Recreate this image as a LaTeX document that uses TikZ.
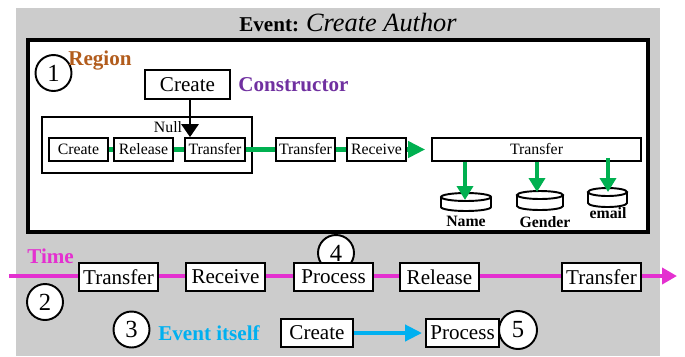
\documentclass[tikz,border=0pt]{standalone}
\usepackage{fontspec}
\setmainfont{LiberationSerif}[Extension=.ttf,UprightFont=*-Regular,BoldFont=*-Bold,ItalicFont=*-Italic,BoldItalicFont=*-BoldItalic]
\usetikzlibrary{arrows.meta}
\definecolor{regiongreen}{RGB}{0,176,80}
\definecolor{timepink}{RGB}{228,48,208}
\definecolor{eventblue}{RGB}{0,176,240}
\definecolor{regionbrown}{RGB}{178,92,28}
\definecolor{ctorpurple}{RGB}{112,48,160}
\definecolor{bggrey}{RGB}{204,204,204}
\tikzset{
  timebox/.style={draw,fill=white,line width=1.1pt,inner sep=0pt,minimum width=1.58cm,minimum height=0.56cm,font=\fontsize{12}{14}\selectfont},
  smallbox/.style={draw,fill=white,line width=1pt,inner sep=0pt,minimum width=1.18cm,minimum height=0.46cm,font=\fontsize{9}{11}\selectfont},
  numcirc/.style={draw,circle,fill=white,line width=1.1pt,inner sep=0pt,minimum size=0.72cm,font=\fontsize{14}{14}\selectfont},
  greenline/.style={regiongreen,line width=2.3pt},
  dblabel/.style={anchor=base,font=\fontsize{9}{11}\selectfont\bfseries},
  tag/.style={anchor=base west,inner sep=0pt,font=\fontsize{12}{14}\selectfont\bfseries},
}
\begin{document}
\begin{tikzpicture}[x=0.02cm,y=-0.02cm]
\useasboundingbox (0,0) rectangle (685,356);
\fill[bggrey] (16,8) rectangle (660,356);
\node[anchor=base] (title) at (348,31) {\fontsize{12}{14}\selectfont\bfseries Event: \fontsize{15}{17}\selectfont\mdseries\itshape Create Author};
\draw[line width=1.8pt,fill=white] (28,40) rectangle (648,232);
\node[numcirc] (one) at (53.5,73) {1};
\node[tag,text=regionbrown] (region) at (68,65) {Region};
\node[draw,fill=white,line width=1.1pt,inner sep=0pt,minimum width=1.7cm,minimum height=0.58cm,font=\fontsize{12}{14}\selectfont] (ctor) at (187.5,84.5) {Create};
\node[tag,text=ctorpurple] (ctortxt) at (238,91) {Constructor};
\node[draw,line width=1.1pt,inner sep=0pt,minimum width=4.2cm,minimum height=1.12cm] (null) at (147,145) {};
\node[anchor=base,font=\fontsize{9}{11}\selectfont] (nulltxt) at (168,132) {Null};
\node[smallbox] (icreate) at (78.5,149.5) {Create};
\node[smallbox] (irelease) at (143.5,149.5) {Release};
\node[smallbox,minimum width=1.2cm] (ixfer) at (215,149.5) {Transfer};
\node[smallbox] (oxfer) at (305.5,149.5) {Transfer};
\node[smallbox] (oreceive) at (376.5,149.5) {Receive};
\node[smallbox,minimum width=4.18cm] (bigxfer) at (536.5,149.5) {Transfer};
\draw[line width=1.6pt,-{Triangle[length=0.26cm,width=0.34cm]}] ([xshift=0.05cm]ctor.south) -- ([xshift=0.05cm]ctor.south |- ixfer.north);
\draw[greenline] (icreate) -- (irelease);
\draw[greenline] (irelease) -- (ixfer);
\draw[greenline] (ixfer) -- (oxfer);
\draw[greenline] (oxfer) -- (oreceive);
\draw[greenline,-{Triangle[length=0.34cm,width=0.32cm]},shorten >=0.12cm] (oreceive) -- (bigxfer);
\foreach \cx/\ty/\by/\rx/\nm in {466/197/207/0.5/name,540/195/206/0.46/gender,607.5/192/203/0.39/email}{
  \draw[line width=1.1pt,fill=white] ([xshift=-\rx cm]\cx,\ty) -- ([xshift=-\rx cm]\cx,\by) arc[start angle=180,end angle=360,x radius=\rx cm,y radius=0.08cm] -- ([xshift=\rx cm]\cx,\ty);
  \draw[line width=1.1pt,fill=white] (\cx,\ty) ellipse[x radius=\rx cm,y radius=0.08cm];
}
\coordinate (nametop) at (465,200);
\coordinate (gendertop) at (537,192);
\coordinate (emailtop) at (608,192);
\draw[greenline,-{Triangle[length=0.28cm,width=0.32cm]}] (bigxfer.south -| nametop) -- (nametop);
\draw[greenline,-{Triangle[length=0.28cm,width=0.32cm]}] (bigxfer.south -| gendertop) -- (gendertop);
\draw[greenline,-{Triangle[length=0.28cm,width=0.32cm]}] ([yshift=0.08cm]bigxfer.south -| emailtop) -- (emailtop);
\node[dblabel] (namelbl) at (466,226) {Name};
\node[dblabel] (genderlbl) at (545,227) {Gender};
\node[dblabel] (emaillbl) at (608,218) {email};
\coordinate (tstart) at (9,276);
\coordinate (tend) at (677,276);
\draw[timepink,line width=2.3pt,-{Triangle[length=0.3cm,width=0.32cm]}] (tstart) -- (tend);
\node[tag,text=timepink] (time) at (27,263) {Time};
\node[numcirc] (four) at (336,253) {4};
\node[timebox] (t1) at (118.5,277) {Transfer};
\node[timebox] (t2) at (225.5,277) {Receive};
\node[timebox] (t3) at (333.5,277) {Process};
\node[timebox] (t4) at (439.5,277) {Release};
\node[timebox] (t5) at (601.5,277) {Transfer};
\node[numcirc] (two) at (45,302) {2};
\node[numcirc] (three) at (131.5,329.5) {3};
\node[tag,text=eventblue] (evtxt) at (158,340) {Event itself};
\node[timebox,minimum width=1.44cm] (ecreate) at (317,333) {Create};
\node[timebox,minimum width=1.46cm] (eprocess) at (462.5,333) {Process};
\node[numcirc,minimum size=0.76cm] (five) at (518,330) {5};
\draw[eventblue,line width=2.3pt,-{Triangle[length=0.34cm,width=0.32cm]},shorten >=0.06cm] (ecreate) -- (eprocess);
\end{tikzpicture}
\end{document}
